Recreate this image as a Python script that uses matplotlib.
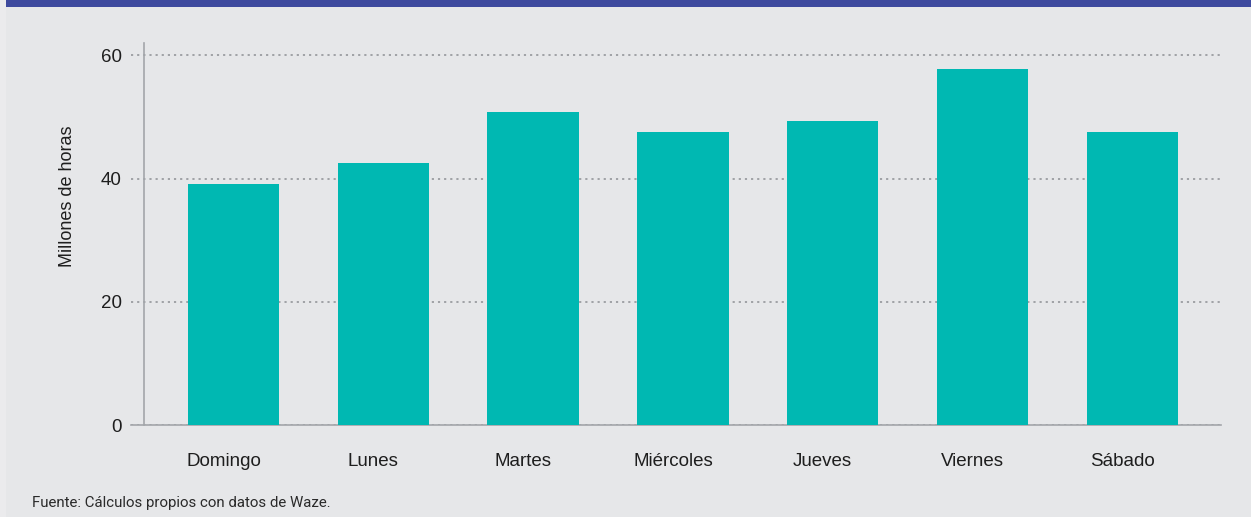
import matplotlib
matplotlib.use('Agg')
import matplotlib.pyplot as plt
from matplotlib.patches import Rectangle
from matplotlib.transforms import ScaledTranslation

# Horas perdidas en tráfico por día de la semana (millones de horas)
DIAS    = ['Domingo', 'Lunes', 'Martes', 'Miércoles', 'Jueves', 'Viernes', 'Sábado']
HORAS   = [39.1, 42.5, 50.8, 47.5, 49.3, 57.7, 47.5]
Y_TICKS = [0, 20, 40, 60]

BG      = '#e6e7e9'
BAND    = '#3e4a9e'
TEAL    = '#00b8b2'
GRID    = '#9a9ca0'
SPINE   = '#a3a6aa'

W, H = 1251, 517
fig = plt.figure(figsize=(W / 100, H / 100), dpi=100, facecolor='#ebebed')

# fondo gris y franja azul superior
fig.patches.append(Rectangle((6 / W, 0), 1 - 6 / W, 1, transform=fig.transFigure,
                             facecolor=BG, edgecolor='none', zorder=-2))
fig.patches.append(Rectangle((6 / W, 1 - 7 / H), 1 - 6 / W, 7 / H,
                             transform=fig.transFigure, facecolor=BAND,
                             edgecolor='none', zorder=-1))

ax = fig.add_axes([131 / W, 92 / H, 1090 / W, 382 / H])
ax.set_facecolor('none')

x = range(len(DIAS))
ax.bar(x, HORAS, width=0.61, color=TEAL, zorder=3)

ax.set_xlim(-0.684, 6.592)
ax.set_ylim(0, 62)
ax.set_yticks(Y_TICKS)
ax.set_xticks(list(x))
ax.set_xticklabels(DIAS)

ax.yaxis.grid(True, linestyle=(0, (1.2, 2.2)), color=GRID, linewidth=1.3, zorder=1)
ax.set_axisbelow(True)

for side in ['top', 'right']:
    ax.spines[side].set_visible(False)
ax.spines['left'].set_position(('data', -0.597))
ax.spines['left'].set_color(SPINE)
ax.spines['left'].set_linewidth(1.2)
ax.spines['bottom'].set_color(SPINE)
ax.spines['bottom'].set_linewidth(1.2)

# las etiquetas del eje y siguen al eje desplazado, de ahí el pad grande
ax.tick_params(axis='y', length=0, pad=16, labelsize=13.5, labelcolor='#1e1e1e')
ax.tick_params(axis='x', length=0, pad=20, labelsize=13.5, labelcolor='#1e1e1e')
shift = ScaledTranslation(-10 / 100, 0, fig.dpi_scale_trans)
for lbl in ax.get_xticklabels():
    lbl.set_family('Liberation Sans')
    lbl.set_transform(lbl.get_transform() + shift)
for lbl in ax.get_yticklabels():
    lbl.set_family('Liberation Sans')

fig.text(68 / W, 1 - 196 / H, 'Millones de horas', rotation=90,
         ha='center', va='center', fontsize=13, family='Liberation Sans',
         color='#1e1e1e')

fig.text(32 / W, 10 / H, 'Fuente: Cálculos propios con datos de Waze.',
         ha='left', va='baseline', fontsize=10.8, family='Roboto', color='#2a2a2a')

fig.savefig('out.png', dpi=100, facecolor=fig.get_facecolor())
